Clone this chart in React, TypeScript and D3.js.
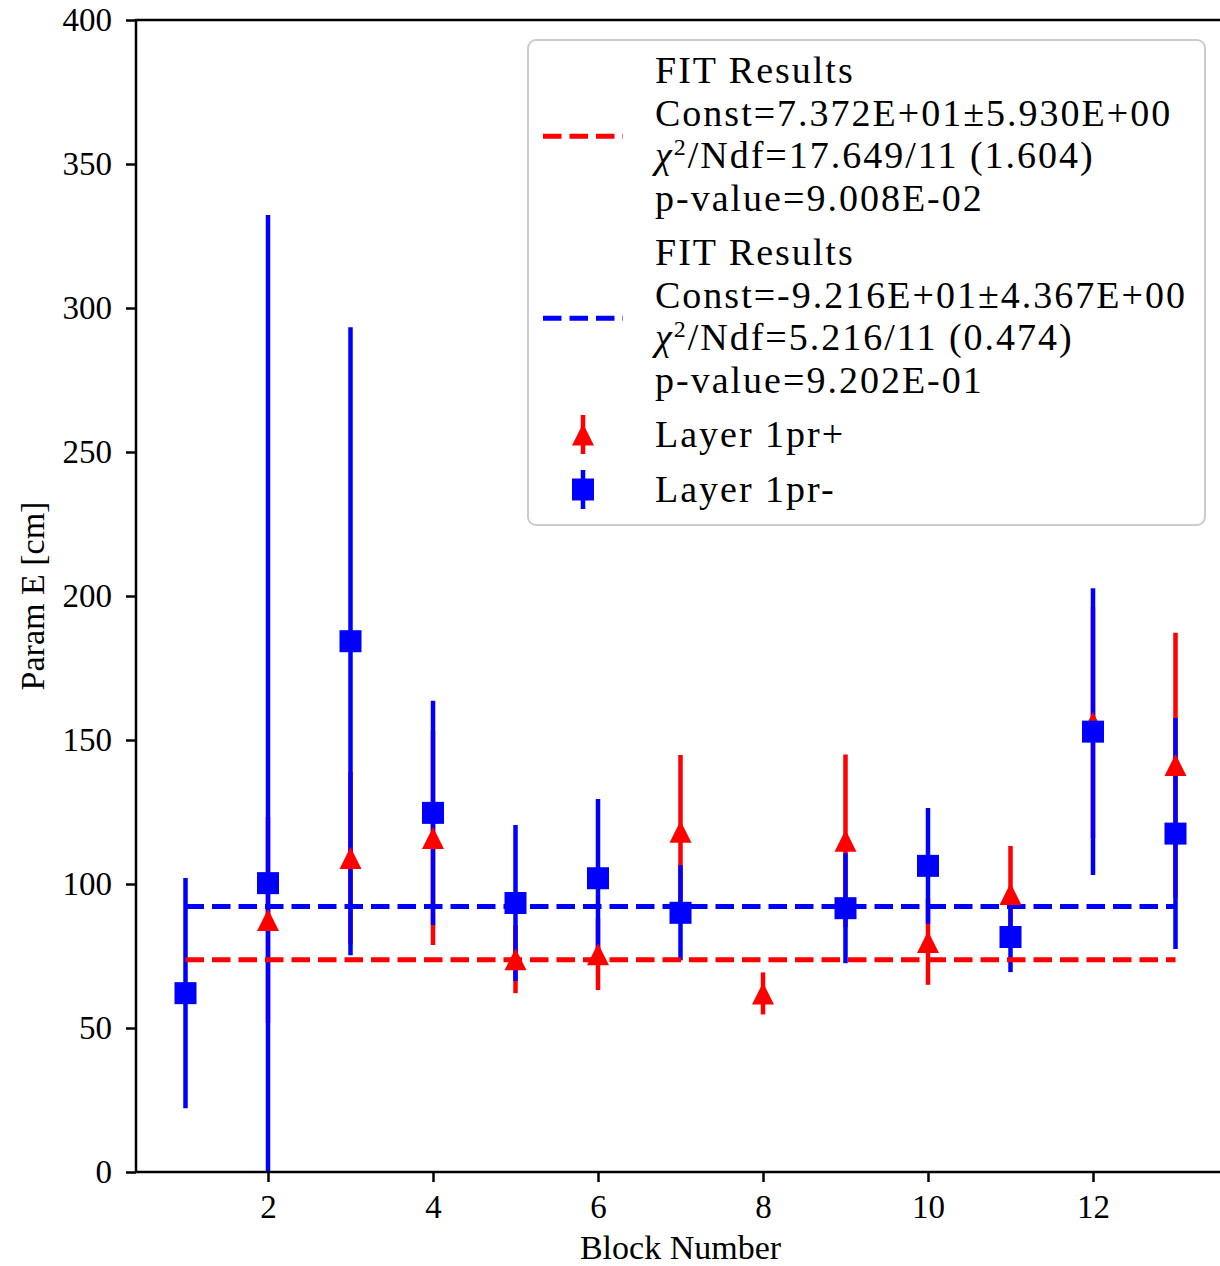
import React, { useEffect, useRef } from 'react';
import * as d3 from 'd3';

// Layer 1pr+ (red triangles)
const plusBlocks = [2, 3, 4, 5, 6, 7, 8, 9, 10, 11, 12, 13];
const plusValues = [87.5, 109, 116, 73.9, 75.6, 118.1, 62, 115, 79.9, 96.5, 156, 141.3];
const plusErrors = [35.8, 30, 37.2, 11.8, 12.4, 26.7, 7.3, 30, 14.9, 16.7, 40, 45.9];

// Layer 1pr- (blue squares)
const minusBlocks = [1, 2, 3, 4, 5, 6, 7, 9, 10, 11, 12, 13];
const minusValues = [62.1, 100.3, 184.3, 124.7, 93.4, 102, 90, 91.6, 106.3, 81.6, 152.9, 117.5];
const minusErrors = [40, 232, 109, 38.9, 27.1, 27.5, 16.5, 19.1, 20.1, 12.2, 49.8, 40.1];

// constant fits, drawn from first to last block
const fitPlus = 73.72;
const fitMinus = 92.16;
const fitSpan = [1, 13];

const xTicks = [2, 4, 6, 8, 10, 12];
const yTicks = [0, 50, 100, 150, 200, 250, 300, 350, 400];

const fitTextPlus = ['FIT Results', 'Const=7.372E+01±5.930E+00', 'χ2/Ndf=17.649/11 (1.604)', 'p-value=9.008E-02'];
const fitTextMinus = ['FIT Results', 'Const=-9.216E+01±4.367E+00', 'χ2/Ndf=5.216/11 (0.474)', 'p-value=9.202E-01'];
const seriesLabels = ['Layer 1pr+', 'Layer 1pr-'];

const RED = '#ff0000';
const BLUE = '#0000ff';
const FONT = '"Liberation Serif", "Times New Roman", serif';

const W = 1220;
const H = 1266;

const App: React.FC = () => {
  const ref = useRef<SVGSVGElement | null>(null);

  useEffect(() => {
    if (!ref.current) return;
    const svg = d3.select(ref.current);
    svg.selectAll('*').remove();

    const left = 136, right = 1225, top = 20, bottom = 1172;
    const x = d3.scaleLinear().domain([0.4, 13.6]).range([left, right]);
    const y = d3.scaleLinear().domain([0, 400]).range([bottom, top]);

    svg.append('defs').append('clipPath').attr('id', 'plot-clip')
      .append('rect').attr('x', left).attr('y', top)
      .attr('width', right - left).attr('height', bottom - top);

    const plot = svg.append('g').attr('clip-path', 'url(#plot-clip)');

    const plus = plusBlocks.map((b, i) => ({ b, v: plusValues[i], e: plusErrors[i] }));
    const minus = minusBlocks.map((b, i) => ({ b, v: minusValues[i], e: minusErrors[i] }));

    // error bars
    const bars = (data: typeof plus, color: string) => {
      plot.append('g').selectAll('line').data(data).enter().append('line')
        .attr('x1', d => x(d.b)).attr('x2', d => x(d.b))
        .attr('y1', d => y(d.v - d.e)).attr('y2', d => y(d.v + d.e))
        .attr('stroke', color).attr('stroke-width', 4.5);
    };
    bars(plus, RED);
    bars(minus, BLUE);

    // fit lines
    [[fitPlus, RED], [fitMinus, BLUE]].forEach(([c, color]) => {
      plot.append('line')
        .attr('x1', x(fitSpan[0])).attr('x2', x(fitSpan[1]))
        .attr('y1', y(c as number)).attr('y2', y(c as number))
        .attr('stroke', color as string).attr('stroke-width', 5)
        .attr('stroke-dasharray', '18.5 8');
    });

    // markers
    const ms = 22;
    const tri = (cx: number, cy: number) =>
      `M${cx},${cy - ms / 2}L${cx - ms / 2},${cy + ms / 2}L${cx + ms / 2},${cy + ms / 2}Z`;
    plot.append('g').selectAll('path').data(plus).enter().append('path')
      .attr('d', d => tri(x(d.b), y(d.v))).attr('fill', RED);
    plot.append('g').selectAll('rect').data(minus).enter().append('rect')
      .attr('x', d => x(d.b) - ms / 2).attr('y', d => y(d.v) - ms / 2)
      .attr('width', ms).attr('height', ms).attr('fill', BLUE);

    // axes
    const yAxis = svg.append('g').attr('transform', `translate(${left},0)`)
      .call(d3.axisLeft(y).tickValues(yTicks).tickSize(10).tickPadding(14).tickSizeOuter(0));
    const xAxis = svg.append('g').attr('transform', `translate(0,${bottom})`)
      .call(d3.axisBottom(x).tickValues(xTicks).tickSize(10).tickPadding(12.5).tickSizeOuter(0));
    [yAxis, xAxis].forEach(ax => {
      ax.select('.domain').remove();
      ax.selectAll('line').attr('stroke', '#000').attr('stroke-width', 2.5);
      ax.selectAll('text').attr('fill', '#000').style('font-family', FONT).style('font-size', '33px');
    });

    // frame
    svg.append('rect').attr('x', left).attr('y', top)
      .attr('width', right - left).attr('height', bottom - top)
      .attr('fill', 'none').attr('stroke', '#000').attr('stroke-width', 2.5);

    // axis labels
    svg.append('text').attr('x', (left + right) / 2).attr('y', 1259)
      .attr('text-anchor', 'middle').style('font-family', FONT).style('font-size', '34px')
      .text('Block Number');
    svg.append('text').attr('transform', `translate(43.5,${(top + bottom) / 2}) rotate(-90)`)
      .attr('text-anchor', 'middle').style('font-family', FONT).style('font-size', '34px')
      .text('Param E [cm]');

    // legend
    const lg = svg.append('g');
    lg.append('rect').attr('x', 528).attr('y', 40).attr('width', 677).attr('height', 485)
      .attr('rx', 8).attr('fill', '#fff').attr('fill-opacity', 0.8)
      .attr('stroke', '#cccccc').attr('stroke-width', 2);

    const textX = 655;
    const lineStep = 42.5;
    const writeLine = (str: string, baseline: number) => {
      const t = lg.append('text').attr('x', textX).attr('y', baseline)
        .style('font-family', FONT).style('font-size', '38px').style('letter-spacing', '2px');
      if (str.startsWith('χ2')) {
        t.append('tspan').style('font-style', 'italic').text('χ');
        t.append('tspan').attr('dy', -13).style('font-size', '24px').text('2');
        t.append('tspan').attr('dy', 13).text(str.slice(2));
      } else {
        t.text(str);
      }
    };
    const blocks: [string[], string, number][] = [[fitTextPlus, RED, 83], [fitTextMinus, BLUE, 265]];
    blocks.forEach(([lines, color, first]) => {
      lines.forEach((s, i) => writeLine(s, first + i * lineStep));
      const mid = first + (lineStep * (lines.length - 1)) / 2 - 10.5;
      lg.append('line').attr('x1', 543).attr('x2', 623).attr('y1', mid).attr('y2', mid)
        .attr('stroke', color).attr('stroke-width', 5).attr('stroke-dasharray', '18.5 8');
    });

    const hx = 583;
    const entries: [string, string, number][] = [[seriesLabels[0], RED, 447], [seriesLabels[1], BLUE, 502]];
    entries.forEach(([label, color, baseline], i) => {
      const cy = baseline - 12.5;
      lg.append('line').attr('x1', hx).attr('x2', hx).attr('y1', cy - 19.5).attr('y2', cy + 19.5)
        .attr('stroke', color).attr('stroke-width', 4.5);
      if (i === 0) lg.append('path').attr('d', tri(hx, cy)).attr('fill', color);
      else lg.append('rect').attr('x', hx - ms / 2).attr('y', cy - ms / 2)
        .attr('width', ms).attr('height', ms).attr('fill', color);
      writeLine(label, baseline);
    });
  }, []);

  return (
    <svg ref={ref} width={W} height={H}
      style={{ position: 'absolute', left: 0, top: 0, background: '#fff' }} />
  );
};

export default App;
